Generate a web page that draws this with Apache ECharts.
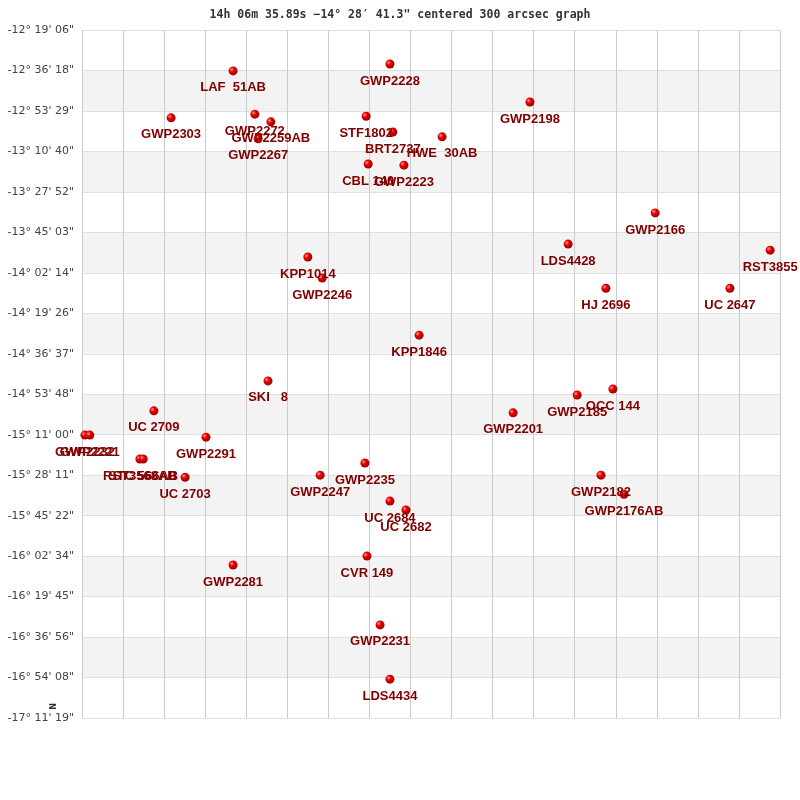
<!DOCTYPE html>
<html>
<head>
<meta charset="utf-8">
<script src="https://cdn.jsdelivr.net/npm/echarts@6/dist/echarts.min.js"></script>
<style>html,body{margin:0;padding:0;background:#fff}#c{width:800px;height:800px}</style>
</head>
<body>
<div id="c"></div>
<script>
var titleText = '14h 06m 35.89s \u221214\u00b0 28\u2032 41.3" centered 300 arcsec graph';
var tickLabels = ['-12\u00b0 19\' 06"','-12\u00b0 36\' 18"','-12\u00b0 53\' 29"','-13\u00b0 10\' 40"','-13\u00b0 27\' 52"','-13\u00b0 45\' 03"','-14\u00b0 02\' 14"','-14\u00b0 19\' 26"','-14\u00b0 36\' 37"','-14\u00b0 53\' 48"','-15\u00b0 11\' 00"','-15\u00b0 28\' 11"','-15\u00b0 45\' 22"','-16\u00b0 02\' 34"','-16\u00b0 19\' 45"','-16\u00b0 36\' 56"','-16\u00b0 54\' 08"','-17\u00b0 11\' 19"'];
var names = ['LAF  51AB','GWP2228','GWP2198','GWP2303','GWP2272','GWP2259AB','GWP2267','STF1802','BRT2737','HWE  30AB','CBL 140','GWP2223','GWP2166','LDS4428','RST3855','KPP1014','GWP2246','HJ 2696','UC 2647','KPP1846','SKI   8','OCC 144','GWP2185','UC 2709','GWP2201','GWP2291','GWP2232','GWP2221','RST3568AB','STC 566AB','UC 2703','GWP2235','GWP2247','UC 2684','UC 2682','GWP2182','GWP2176AB','GWP2281','CVR 149','GWP2231','LDS4434'];
var xs = [3.68,7.50,10.91,2.17,4.21,4.60,4.29,6.92,7.57,8.77,6.97,7.84,13.96,11.84,16.76,5.50,5.85,12.76,15.78,8.21,4.53,12.93,12.06,1.75,10.50,3.02,0.07,0.19,1.41,1.49,2.51,6.89,5.80,7.50,7.89,12.64,13.20,3.68,6.94,7.26,7.50];
var ys = [1.01,0.84,1.78,2.17,2.08,2.27,2.69,2.13,2.52,2.64,3.31,3.34,4.52,5.29,5.44,5.61,6.13,6.38,6.38,7.54,8.67,8.87,9.02,9.41,9.46,10.06,10.01,10.01,10.60,10.60,11.05,10.70,11.00,11.64,11.86,11.00,11.47,13.22,13.00,14.70,16.04];

var data = names.map(function(n,i){ return {name:n, value:[xs[i], ys[i]]}; });
var chart = echarts.init(document.getElementById('c'));
chart.setOption({
  animation:false,
  backgroundColor:'#fff',
  title:{text:titleText, left:'center', top:4, textStyle:{fontFamily:'DejaVu Sans Mono', fontWeight:'bold', fontSize:11.5, color:'#333'}},
  grid:{left:82, right:20, top:30, bottom:82},
  xAxis:{type:'value', min:0, max:17, interval:1, axisLabel:{show:false}, axisTick:{show:false}, axisLine:{show:false},
    splitLine:{show:true, lineStyle:{color:'#cccccc', width:1}}},
  yAxis:{type:'value', min:0, max:17, interval:1, inverse:true, axisTick:{show:false}, axisLine:{show:true, lineStyle:{color:'#cccccc'}},
    axisLabel:{margin:8, fontFamily:'DejaVu Sans', fontSize:11, color:'#444', formatter:function(v){return tickLabels[Math.round(v)];}},
    splitLine:{show:true, lineStyle:{color:'#e0e0e0'}},
    splitArea:{show:true, areaStyle:{color:['#ffffff','#f3f3f3']}}},
  graphic:[{type:'text', left:50, top:703, rotation:Math.PI/2, style:{text:'N', font:'bold 8px DejaVu Sans', fill:'#333'}}],
  series:[{type:'scatter', data:data, symbol:'circle', symbolSize:9,
    itemStyle:{opacity:1, color:{type:'radial', x:0.35, y:0.35, r:0.75, colorStops:[{offset:0,color:'#ff9a9a'},{offset:0.35,color:'#e80000'},{offset:1,color:'#8a0000'}]}},
    label:{show:true, position:'bottom', distance:6, formatter:'{b}', color:'#800000', fontFamily:'Liberation Sans', fontWeight:'bold', fontSize:13}
  }]
});
</script>
</body>
</html>
